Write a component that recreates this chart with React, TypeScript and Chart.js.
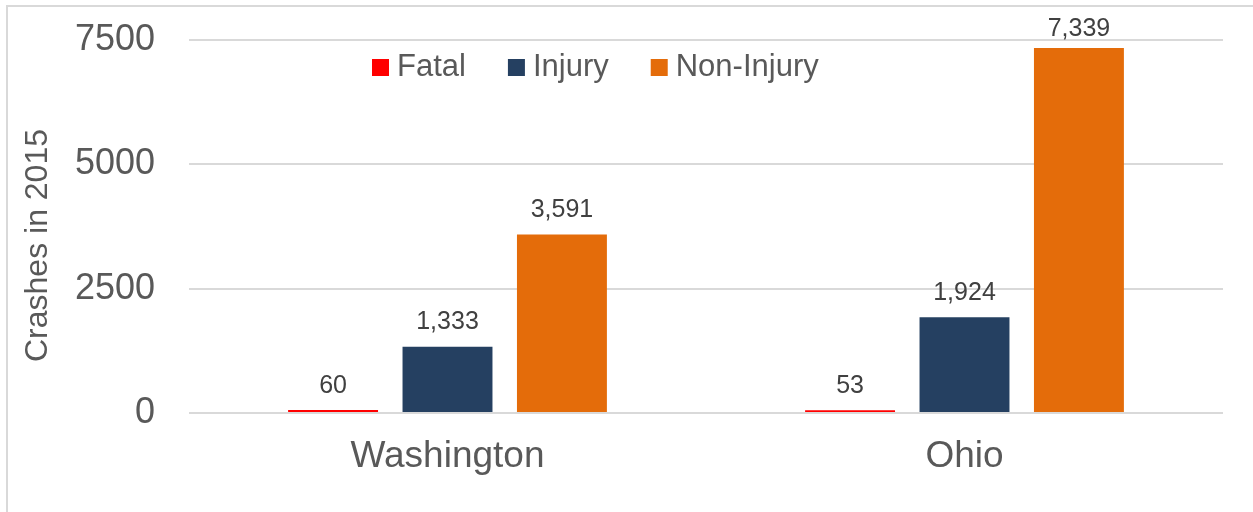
import React, { useEffect, useRef } from "react";
import { Chart, registerables } from "chart.js";

Chart.register(...registerables);

const categories = ["Washington", "Ohio"];
const seriesNames = ["Fatal", "Injury", "Non-Injury"];
const fatalValues = [60, 53];
const injuryValues = [1333, 1924];
const nonInjuryValues = [3591, 7339];
const seriesColors = ["#FF0000", "#254061", "#E46C0A"];
const yTickValues = [0, 2500, 5000, 7500];
const yTitle = "Crashes in 2015";

const FONT = "'Liberation Sans', Arial, sans-serif";

const customDraw = {
  id: "customDraw",
  afterDatasetsDraw(chart: any) {
    const ctx = chart.ctx;
    const area = chart.chartArea;
    ctx.save();
    // data labels
    ctx.font = `25px ${FONT}`;
    ctx.fillStyle = "#404040";
    ctx.textAlign = "center";
    ctx.textBaseline = "alphabetic";
    chart.data.datasets.forEach((ds: any, di: number) => {
      const meta = chart.getDatasetMeta(di);
      meta.data.forEach((bar: any, i: number) => {
        const v = ds.data[i];
        const y = Math.max(bar.y - 17.5, area.top - 4);
        ctx.fillText(Number(v).toLocaleString("en-US"), bar.x, y);
      });
    });
    // legend
    ctx.font = `31px ${FONT}`;
    ctx.textAlign = "left";
    ctx.textBaseline = "middle";
    let x = area.left + 183;
    const cy = area.top + 27.5;
    chart.data.datasets.forEach((ds: any) => {
      ctx.fillStyle = ds.backgroundColor;
      ctx.fillRect(x, cy - 8.5, 17, 17);
      ctx.fillStyle = "#595959";
      ctx.fillText(ds.label, x + 25, cy);
      x += 25 + ctx.measureText(ds.label).width + 42;
    });
    // y title
    ctx.save();
    ctx.translate(38.5, (area.top + area.bottom) / 2 + 19);
    ctx.rotate(-Math.PI / 2);
    ctx.font = `32px ${FONT}`;
    ctx.fillStyle = "#595959";
    ctx.textAlign = "center";
    ctx.textBaseline = "middle";
    ctx.fillText(yTitle, 0, 0);
    ctx.restore();
    ctx.restore();
  },
};

export default function App() {
  const canvasRef = useRef<HTMLCanvasElement | null>(null);

  useEffect(() => {
    const canvas = canvasRef.current;
    if (!canvas) return;
    const seriesValues = [fatalValues, injuryValues, nonInjuryValues];
    const chart = new Chart(canvas, {
      type: "bar",
      data: {
        labels: categories,
        datasets: seriesNames.map((name, i) => ({
          label: name,
          data: seriesValues[i],
          backgroundColor: seriesColors[i],
          borderWidth: 0,
          categoryPercentage: 0.664,
          barPercentage: 0.786,
        })),
      },
      options: {
        animation: false,
        responsive: false,
        devicePixelRatio: 1,
        layout: { padding: { top: 40, right: 30, bottom: 0, left: 0 } },
        plugins: {
          legend: { display: false },
          tooltip: { enabled: false },
          title: { display: false },
        },
        scales: {
          x: {
            grid: { display: false, drawTicks: false },
            border: { display: false },
            ticks: {
              font: { family: FONT, size: 37 },
              color: "#595959",
              padding: 22,
            },
            afterFit(scale: any) {
              scale.height = 99;
            },
          },
          y: {
            min: 0,
            max: 7500,
            afterBuildTicks(scale: any) {
              scale.ticks = yTickValues.map((v) => ({ value: v }));
            },
            ticks: {
              font: { family: FONT, size: 36 },
              color: "#595959",
              padding: 34,
              callback: (v: any) => String(v),
            },
            grid: { color: "#D9D9D9", lineWidth: 2, drawTicks: false },
            border: { display: false },
            afterFit(scale: any) {
              scale.width = 189;
              scale.paddingTop = 0;
              scale.paddingBottom = 0;
            },
          },
        },
      },
      plugins: [customDraw],
    });
    return () => chart.destroy();
  }, []);

  return (
    <div
      style={{
        position: "absolute",
        left: 0,
        top: 0,
        width: 1253,
        height: 512,
        overflow: "hidden",
        background: "#FFFFFF",
      }}
    >
      <div
        style={{
          position: "absolute",
          left: 6,
          top: 5,
          width: 1300,
          height: 600,
          border: "2px solid #D9D9D9",
          boxSizing: "border-box",
        }}
      />
      <canvas
        ref={canvasRef}
        width={1253}
        height={512}
        style={{ position: "absolute", left: 0, top: 0, width: 1253, height: 512 }}
      />
    </div>
  );
}
